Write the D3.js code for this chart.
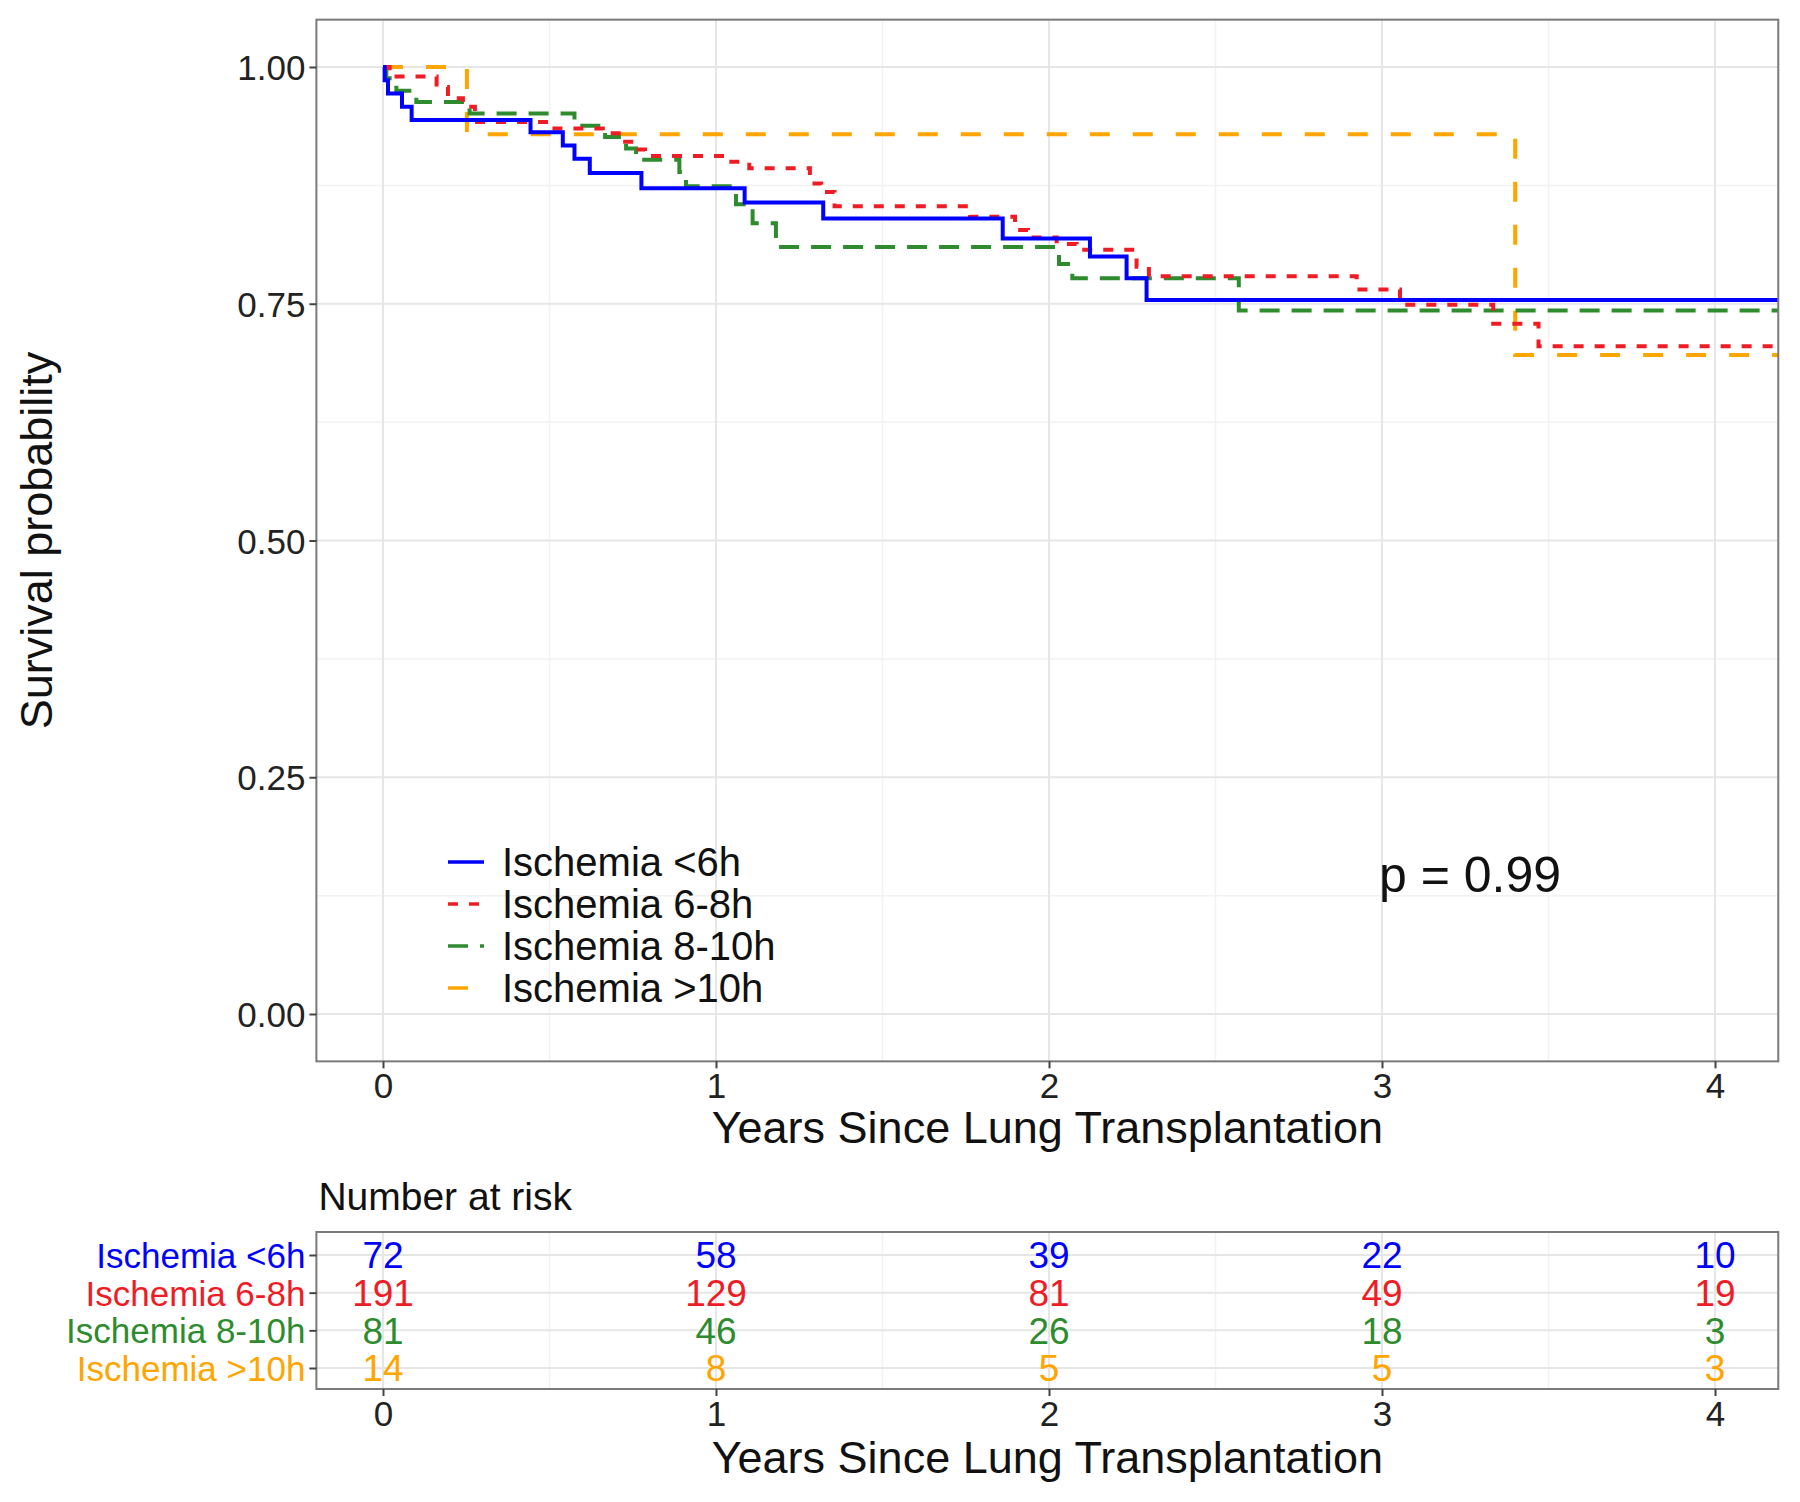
<!DOCTYPE html>
<html>
<head>
<meta charset="utf-8">
<script src="https://cdn.jsdelivr.net/npm/d3@7"></script>
<style>
  html, body { margin: 0; padding: 0; background: #fff; }
  svg { display: block; font-family: "Liberation Sans", Arial, sans-serif; }
</style>
</head>
<body>
<svg id="chart" width="1800" height="1502"></svg>
<script>
// ---------------- DATA ----------------
const groups = ["Ischemia <6h", "Ischemia 6-8h", "Ischemia 8-10h", "Ischemia >10h"];
const groupColors = ["#0000FF", "#EE1C25", "#2E8B2E", "#FFA500"];
const groupDash = [null, "10,11", "20,12", "20,23"];

const timesLt6 = [0, 0.005, 0.015, 0.057, 0.086, 0.443, 0.540, 0.575, 0.621, 0.776, 1.086, 1.322, 1.861, 2.123, 2.233, 2.293, 4.2];
const survLt6  = [1, 0.986, 0.972, 0.958, 0.944, 0.931, 0.917, 0.903, 0.888, 0.872, 0.857, 0.840, 0.819, 0.800, 0.777, 0.754, 0.754];

const times6to8 = [0, 0.02, 0.161, 0.195, 0.24, 0.276, 0.50, 0.66, 0.72, 0.76, 0.787, 1.034, 1.10, 1.282, 1.316, 1.356, 1.763, 1.898, 1.937, 2.023, 2.083, 2.263, 2.30, 2.924, 3.054, 3.334, 3.47, 4.2];
const surv6to8  = [1, 0.990, 0.979, 0.967, 0.958, 0.942, 0.935, 0.930, 0.921, 0.913, 0.906, 0.900, 0.893, 0.877, 0.868, 0.853, 0.842, 0.828, 0.820, 0.813, 0.807, 0.789, 0.779, 0.765, 0.749, 0.729, 0.705, 0.705];

const times8to10 = [0, 0.01, 0.04, 0.10, 0.26, 0.575, 0.667, 0.73, 0.76, 0.89, 0.91, 1.06, 1.11, 1.18, 2.03, 2.07, 2.57, 4.2];
const surv8to10  = [1, 0.988, 0.975, 0.963, 0.951, 0.938, 0.926, 0.914, 0.902, 0.889, 0.874, 0.855, 0.835, 0.810, 0.792, 0.777, 0.743, 0.743];

const timesGt10 = [0, 0.252, 3.40, 4.2];
const survGt10  = [1, 0.929, 0.696, 0.696];

const seriesTimes = [timesLt6, times6to8, times8to10, timesGt10];
const seriesSurv  = [survLt6, surv6to8, surv8to10, survGt10];

const xTicks = [0, 1, 2, 3, 4];
const yTicks = [0, 0.25, 0.5, 0.75, 1.0];
const yTickLabels = ["0.00", "0.25", "0.50", "0.75", "1.00"];

const riskLt6  = [72, 58, 39, 22, 10];
const risk6to8 = [191, 129, 81, 49, 19];
const risk8to10 = [81, 46, 26, 18, 3];
const riskGt10 = [14, 8, 5, 5, 3];
const riskRows = [riskLt6, risk6to8, risk8to10, riskGt10];

const pValueText = "p = 0.99";

// ---------------- LAYOUT ----------------
const svg = d3.select("#chart");
const x = d3.scaleLinear().domain([0, 4]).range([383, 1715]);
const y = d3.scaleLinear().domain([0, 1]).range([1014, 67]);
const xMin = -0.2, xMax = 4.19;
const pLeft = x(xMin), pRight = x(xMax);
const pTop = y(1.05), pBottom = y(-0.05);

const font = "'Liberation Sans', Arial, sans-serif";
const gridMajor = "#E6E6E6", gridMinor = "#F2F2F2";
const borderCol = "#7A7A7A";
const axisFont = 35;

// ---------------- MAIN PANEL ----------------
const main = svg.append("g");
main.append("rect").attr("x", pLeft).attr("y", pTop).attr("width", pRight - pLeft).attr("height", pBottom - pTop).attr("fill", "#fff");

const xMinor = [0.5, 1.5, 2.5, 3.5];
const yMinor = [0.125, 0.375, 0.625, 0.875];
main.selectAll(".xminor").data(xMinor).join("line")
  .attr("x1", d => x(d)).attr("x2", d => x(d)).attr("y1", pTop).attr("y2", pBottom)
  .attr("stroke", gridMinor).attr("stroke-width", 1.5);
main.selectAll(".yminor").data(yMinor).join("line")
  .attr("x1", pLeft).attr("x2", pRight).attr("y1", d => y(d)).attr("y2", d => y(d))
  .attr("stroke", gridMinor).attr("stroke-width", 1.5);
main.selectAll(".xmajor").data(xTicks).join("line")
  .attr("x1", d => x(d)).attr("x2", d => x(d)).attr("y1", pTop).attr("y2", pBottom)
  .attr("stroke", gridMajor).attr("stroke-width", 2);
main.selectAll(".ymajor").data(yTicks).join("line")
  .attr("x1", pLeft).attr("x2", pRight).attr("y1", d => y(d)).attr("y2", d => y(d))
  .attr("stroke", gridMajor).attr("stroke-width", 2);

// curves
const clip = svg.append("defs").append("clipPath").attr("id", "clipMain");
clip.append("rect").attr("x", pLeft).attr("y", pTop).attr("width", pRight - pLeft).attr("height", pBottom - pTop);

const line = d3.line().x(d => x(d[0])).y(d => y(d[1])).curve(d3.curveStepAfter);
const curves = main.append("g").attr("clip-path", "url(#clipMain)");
[3, 2, 1, 0].forEach(i => {
  const pts = seriesTimes[i].map((t, j) => [t, seriesSurv[i][j]]);
  curves.append("path").datum(pts)
    .attr("d", line)
    .attr("fill", "none")
    .attr("stroke", groupColors[i])
    .attr("stroke-width", 4)
    .attr("stroke-dasharray", groupDash[i])
    .attr("stroke-linejoin", "miter");
});

main.append("rect").attr("x", pLeft).attr("y", pTop).attr("width", pRight - pLeft).attr("height", pBottom - pTop)
  .attr("fill", "none").attr("stroke", borderCol).attr("stroke-width", 2);

// axes
const yAxis = d3.axisLeft(y).tickValues(yTicks).tickFormat((d, i) => yTickLabels[i]).tickSize(7).tickPadding(4);
const gy = svg.append("g").attr("transform", `translate(${pLeft},0)`).call(yAxis);
gy.select(".domain").remove();
gy.selectAll(".tick line").attr("stroke", "#444").attr("stroke-width", 2);
gy.selectAll(".tick text").attr("font-size", axisFont).attr("font-family", font).attr("fill", "#222").attr("dy", "0.36em");

const xAxis = d3.axisBottom(x).tickValues(xTicks).tickFormat(d3.format("d")).tickSize(7).tickPadding(5);
const gx = svg.append("g").attr("transform", `translate(0,${pBottom})`).call(xAxis);
gx.select(".domain").remove();
gx.selectAll(".tick line").attr("stroke", "#444").attr("stroke-width", 2);
gx.selectAll(".tick text").attr("font-size", axisFont).attr("font-family", font).attr("fill", "#222").attr("dy", "0.7em");

svg.append("text").attr("x", (pLeft + pRight) / 2).attr("y", 1143)
  .attr("text-anchor", "middle").attr("font-size", 45).attr("font-family", font).attr("fill", "#111")
  .text("Years Since Lung Transplantation");

svg.append("text").attr("transform", `translate(52,${(pTop + pBottom) / 2}) rotate(-90)`)
  .attr("text-anchor", "middle").attr("font-size", 45).attr("font-family", font).attr("fill", "#111")
  .text("Survival probability");

// p-value
svg.append("text").attr("x", x(3.0) - 3).attr("y", 892)
  .attr("font-size", 50).attr("font-family", font).attr("fill", "#111")
  .text(pValueText);

// legend
const legend = svg.append("g");
const legY = d3.scalePoint().domain(groups).range([862, 988]);
groups.forEach((g, i) => {
  const yy = legY(g);
  legend.append("line").attr("x1", 448).attr("x2", 484).attr("y1", yy).attr("y2", yy)
    .attr("stroke", groupColors[i]).attr("stroke-width", 3.5).attr("stroke-dasharray", groupDash[i]);
  legend.append("text").attr("x", 502).attr("y", yy).attr("dy", "0.36em")
    .attr("font-size", 40).attr("font-family", font).attr("fill", "#111").text(g);
});

// ---------------- RISK TABLE ----------------
const tTop = 1232, tBottom = 1389;
const ry = d3.scalePoint().domain(groups).range([1255, 1368]);

svg.append("text").attr("x", pLeft + 2).attr("y", 1210)
  .attr("font-size", 39).attr("font-family", font).attr("fill", "#111").text("Number at risk");

const tab = svg.append("g");
tab.selectAll(".txminor").data(xMinor).join("line")
  .attr("x1", d => x(d)).attr("x2", d => x(d)).attr("y1", tTop).attr("y2", tBottom)
  .attr("stroke", gridMinor).attr("stroke-width", 1.5);
tab.selectAll(".txmajor").data(xTicks).join("line")
  .attr("x1", d => x(d)).attr("x2", d => x(d)).attr("y1", tTop).attr("y2", tBottom)
  .attr("stroke", gridMajor).attr("stroke-width", 2);
tab.selectAll(".tymajor").data(groups).join("line")
  .attr("x1", pLeft).attr("x2", pRight).attr("y1", d => ry(d)).attr("y2", d => ry(d))
  .attr("stroke", gridMajor).attr("stroke-width", 2);

groups.forEach((g, i) => {
  tab.selectAll(".num" + i).data(riskRows[i]).join("text")
    .attr("x", (d, j) => x(xTicks[j])).attr("y", ry(g)).attr("dy", "0.36em")
    .attr("text-anchor", "middle").attr("font-size", 37).attr("font-family", font)
    .attr("fill", groupColors[i]).text(d => d);
});

tab.append("rect").attr("x", pLeft).attr("y", tTop).attr("width", pRight - pLeft).attr("height", tBottom - tTop)
  .attr("fill", "none").attr("stroke", borderCol).attr("stroke-width", 2);

const ryAxis = d3.axisLeft(ry).tickSize(7).tickPadding(4);
const gry = svg.append("g").attr("transform", `translate(${pLeft},0)`).call(ryAxis);
gry.select(".domain").remove();
gry.selectAll(".tick line").attr("stroke", "#444").attr("stroke-width", 2);
gry.selectAll(".tick text").attr("font-size", axisFont).attr("font-family", font)
  .attr("fill", (d, i) => groupColors[i]).attr("dy", "0.36em");

const rxAxis = d3.axisBottom(x).tickValues(xTicks).tickFormat(d3.format("d")).tickSize(7).tickPadding(5);
const grx = svg.append("g").attr("transform", `translate(0,${tBottom})`).call(rxAxis);
grx.select(".domain").remove();
grx.selectAll(".tick line").attr("stroke", "#444").attr("stroke-width", 2);
grx.selectAll(".tick text").attr("font-size", axisFont).attr("font-family", font).attr("fill", "#222").attr("dy", "0.7em");

svg.append("text").attr("x", (pLeft + pRight) / 2).attr("y", 1473)
  .attr("text-anchor", "middle").attr("font-size", 45).attr("font-family", font).attr("fill", "#111")
  .text("Years Since Lung Transplantation");
</script>
</body>
</html>
